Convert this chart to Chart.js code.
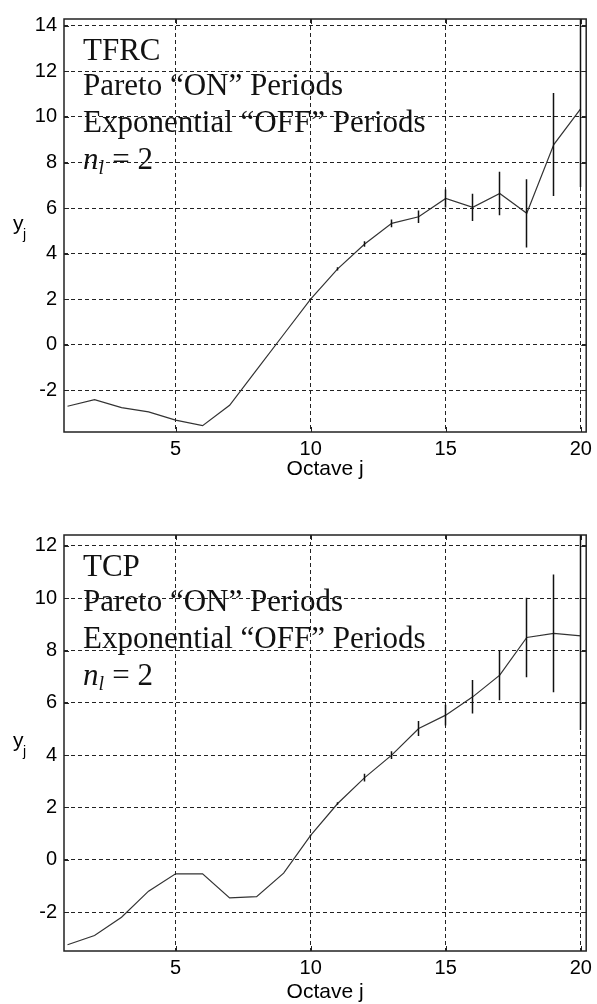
<!DOCTYPE html>
<html>
<head>
<meta charset="utf-8">
<script src="https://cdn.jsdelivr.net/npm/chart.js@4.4.0/dist/chart.umd.min.js"></script>
<style>
html, body { margin: 0; padding: 0; background: #fff; }
.box { position: absolute; left: 0; width: 597px; }
#topBox { top: 0; height: 500px; }
#botBox { top: 500px; height: 504px; }
</style>
</head>
<body>
<div class="box" id="topBox"><canvas id="tfrcChart"></canvas></div>
<div class="box" id="botBox"><canvas id="tcpChart"></canvas></div>
<script>
// octave j
var octaves = [1, 2, 3, 4, 5, 6, 7, 8, 9, 10, 11, 12, 13, 14, 15, 16, 17, 18, 19, 20];

// TFRC: y_j dan error bar (bawah / atas)
var tfrcY = [-2.70, -2.41, -2.76, -2.95, -3.31, -3.55, -2.66, -1.10, 0.45, 2.00, 3.33, 4.42, 5.33, 5.62, 6.42, 6.03, 6.64, 5.77, 8.79, 10.37];
var tfrcErrDown = [0, 0, 0, 0, 0, 0, 0, 0, 0, 0.03, 0.07, 0.12, 0.17, 0.27, 0.4, 0.6, 0.95, 1.5, 2.26, 3.44];
var tfrcErrUp = [0, 0, 0, 0, 0, 0, 0, 0, 0, 0.03, 0.07, 0.12, 0.17, 0.27, 0.4, 0.6, 0.95, 1.5, 2.26, 4.2];

// TCP: y_j dan error bar
var tcpY = [-3.25, -2.90, -2.20, -1.20, -0.54, -0.54, -1.46, -1.41, -0.51, 0.93, 2.15, 3.14, 4.00, 5.02, 5.53, 6.23, 7.06, 8.50, 8.66, 8.56];
var tcpErrDown = [0, 0, 0, 0, 0, 0, 0, 0, 0, 0.03, 0.05, 0.15, 0.15, 0.29, 0.4, 0.64, 0.96, 1.52, 2.25, 3.6];
var tcpErrUp = [0, 0, 0, 0, 0, 0, 0, 0, 0, 0.03, 0.05, 0.15, 0.15, 0.29, 0.4, 0.64, 0.96, 1.52, 2.25, 4.2];

// tick labels
var xTicks = [5, 10, 15, 20];
var tfrcYTicks = [-2, 0, 2, 4, 6, 8, 10, 12, 14];
var tcpYTicks = [-2, 0, 2, 4, 6, 8, 10, 12];

// teks keterangan di dalam plot
var tfrcNotes = ['TFRC', 'Pareto \u201cON\u201d Periods', 'Exponential \u201cOFF\u201d Periods'];
var tcpNotes = ['TCP', 'Pareto \u201cON\u201d Periods', 'Exponential \u201cOFF\u201d Periods'];

var ink = '#222';

// error bar vertikal
var errorBars = {
    id: 'errorBars',
    afterDatasetsDraw: function (chart, args, opts) {
        var ctx = chart.ctx, xs = chart.scales.x, ys = chart.scales.y, a = chart.chartArea;
        ctx.save();
        ctx.beginPath();
        ctx.rect(a.left, a.top, a.right - a.left, a.bottom - a.top);
        ctx.clip();
        ctx.strokeStyle = '#111';
        ctx.lineWidth = 1.5;
        for (var i = 0; i < opts.y.length; i++) {
            if (!opts.down[i] && !opts.up[i]) continue;
            var px = Math.round(xs.getPixelForValue(octaves[i])) - 0.5;
            ctx.beginPath();
            ctx.moveTo(px, ys.getPixelForValue(opts.y[i] - opts.down[i]));
            ctx.lineTo(px, ys.getPixelForValue(opts.y[i] + opts.up[i]));
            ctx.stroke();
        }
        ctx.restore();
    }
};

// kotak sumbu + tick ke dalam + teks + label y_j
var frame = {
    id: 'frame',
    afterDraw: function (chart, args, opts) {
        var ctx = chart.ctx, a = chart.chartArea, xs = chart.scales.x, ys = chart.scales.y;
        ctx.save();
        ctx.strokeStyle = ink;
        ctx.lineWidth = 1.5;
        ctx.strokeRect(a.left, a.top, a.right - a.left, a.bottom - a.top);
        ctx.lineWidth = 1;
        ctx.beginPath();
        xs.ticks.forEach(function (t) {
            var px = Math.round(xs.getPixelForValue(t.value)) + 0.5;
            ctx.moveTo(px, a.bottom); ctx.lineTo(px, a.bottom - 5);
            ctx.moveTo(px, a.top); ctx.lineTo(px, a.top + 5);
        });
        ys.ticks.forEach(function (t) {
            var py = Math.round(ys.getPixelForValue(t.value)) + 0.5;
            ctx.moveTo(a.left, py); ctx.lineTo(a.left + 5, py);
            ctx.moveTo(a.right, py); ctx.lineTo(a.right - 5, py);
        });
        ctx.stroke();

        // keterangan
        ctx.fillStyle = '#111';
        ctx.textBaseline = 'alphabetic';
        ctx.textAlign = 'left';
        var tx = a.left + 19;
        var offs = [41, 76, 113, 150];
        ctx.font = '31px "Liberation Serif"';
        opts.notes.forEach(function (s, k) { ctx.fillText(s, tx, a.top + offs[k]); });
        var by = a.top + offs[3];
        ctx.font = 'italic 31px "Liberation Serif"';
        ctx.fillText('n', tx, by);
        var w = ctx.measureText('n').width;
        ctx.font = 'italic 20px "Liberation Serif"';
        ctx.fillText('l', tx + w, by + 5);
        ctx.font = '31px "Liberation Serif"';
        ctx.fillText(' = 2', tx + w + 6, by);

        // label y_j
        var my = (a.top + a.bottom) / 2 + 4;
        ctx.fillStyle = '#000';
        ctx.font = '21px "Liberation Sans"';
        ctx.fillText('y', 13, my);
        ctx.font = '14px "Liberation Sans"';
        ctx.fillText('j', 23, my + 9);
        ctx.restore();
    }
};

function makeChart(id, yVals, errDown, errUp, yTicks, yMin, yMax, notes, padTop, xAxisH, titlePad) {
    var ctx = document.getElementById(id).getContext('2d');
    return new Chart(ctx, {
        type: 'line',
        data: {
            datasets: [{
                data: octaves.map(function (x, i) { return { x: x, y: yVals[i] }; }),
                borderColor: '#333',
                borderWidth: 1.2,
                pointRadius: 0,
                fill: false,
                tension: 0
            }]
        },
        options: {
            responsive: true,
            maintainAspectRatio: false,
            animation: false,
            layout: { padding: { top: padTop, right: 8, left: 0, bottom: 0 } },
            plugins: {
                legend: { display: false },
                tooltip: { enabled: false },
                errorBars: { y: yVals, down: errDown, up: errUp },
                frame: { notes: notes }
            },
            scales: {
                x: {
                    type: 'linear',
                    min: 0.87,
                    max: 20.2,
                    afterBuildTicks: function (s) { s.ticks = xTicks.map(function (v) { return { value: v }; }); },
                    afterFit: function (s) { s.height = xAxisH; },
                    grid: { color: ink, lineWidth: 1, drawTicks: false },
                    border: { display: false, dash: [4, 3] },
                    ticks: { color: '#000', padding: 5, font: { family: 'Liberation Sans', size: 20 } },
                    title: {
                        display: true,
                        text: 'Octave j',
                        color: '#000',
                        padding: { top: 0, bottom: titlePad },
                        font: { family: 'Liberation Sans', size: 21, lineHeight: 1 }
                    }
                },
                y: {
                    type: 'linear',
                    min: yMin,
                    max: yMax,
                    afterBuildTicks: function (s) { s.ticks = yTicks.map(function (v) { return { value: v }; }); },
                    afterFit: function (s) { s.width = 64; },
                    grid: { color: ink, lineWidth: 1, drawTicks: false },
                    border: { display: false, dash: [4, 3] },
                    ticks: { color: '#000', padding: 7, font: { family: 'Liberation Sans', size: 20 } }
                }
            }
        },
        plugins: [errorBars, frame]
    });
}

makeChart('tfrcChart', tfrcY, tfrcErrDown, tfrcErrUp, tfrcYTicks, -3.83, 14.3, tfrcNotes, 16, 68, 20);
makeChart('tcpChart', tcpY, tcpErrDown, tcpErrUp, tcpYTicks, -3.49, 12.42, tcpNotes, 35, 53, 1);
</script>
</body>
</html>
